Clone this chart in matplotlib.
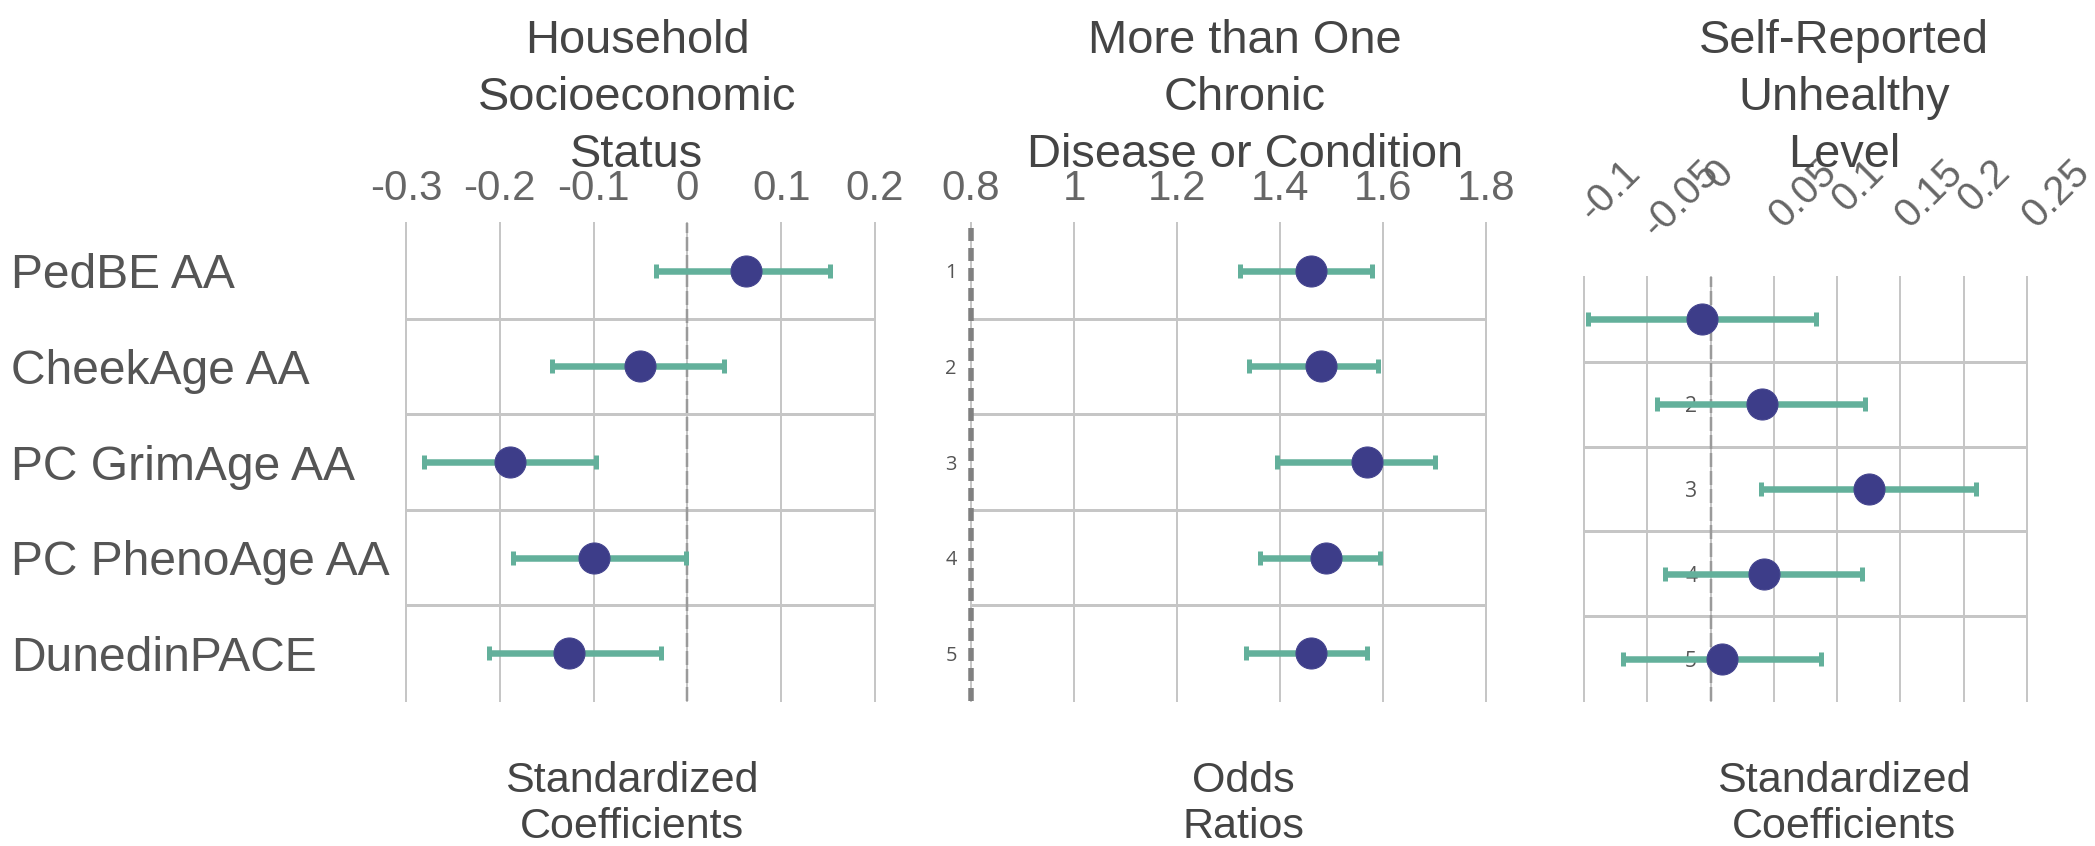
import numpy as np
import matplotlib
matplotlib.use("Agg")
import matplotlib.pyplot as plt
from matplotlib.transforms import ScaledTranslation

plt.rcParams['font.family'] = ['Liberation Sans', 'DejaVu Sans']
plt.rcParams['lines.scale_dashes'] = False

# ---------------- data ----------------
categories = ["PedBE AA", "CheekAge AA", "PC GrimAge AA", "PC PhenoAge AA", "DunedinPACE"]
row_ids = [1, 2, 3, 4, 5]
row_labels = ["1", "2", "3", "4", "5"]

ses_est = [0.062, -0.051, -0.189, -0.100, -0.126]
ses_lo = [-0.033, -0.144, -0.281, -0.186, -0.211]
ses_hi = [0.152, 0.039, -0.097, -0.002, -0.028]

chronic_or = [1.461, 1.479, 1.568, 1.489, 1.461]
chronic_lo = [1.322, 1.340, 1.394, 1.361, 1.334]
chronic_hi = [1.579, 1.590, 1.701, 1.594, 1.568]

unh_est = [-0.007, 0.041, 0.125, 0.042, 0.009]
unh_lo = [-0.097, -0.042, 0.040, -0.036, -0.069]
unh_hi = [0.083, 0.122, 0.210, 0.120, 0.087]

ses_ticks = [-0.3, -0.2, -0.1, 0, 0.1, 0.2]
ses_ticklabels = ["-0.3", "-0.2", "-0.1", "0", "0.1", "0.2"]
or_ticks = [0.8, 1, 1.2, 1.4, 1.6, 1.8]
or_ticklabels = ["0.8", "1", "1.2", "1.4", "1.6", "1.8"]
unh_ticks = [-0.1, -0.05, 0, 0.05, 0.1, 0.15, 0.2, 0.25]
unh_ticklabels = ["-0.1", "-0.05", "0", "0.05", "0.1", "0.15", "0.2", "0.25"]

titles = ["Household\nSocioeconomic\nStatus",
          "More than One\nChronic\nDisease or Condition",
          "Self-Reported\nUnhealthy\nLevel"]
xtitles = ["Standardized\nCoefficients", "Odds\nRatios", "Standardized\nCoefficients"]

# ---------------- layout ----------------
W, H, DPI = 2095, 846, 100
PT = 72.0 / DPI  # px -> pt

fig = plt.figure(figsize=(W / DPI, H / DPI), dpi=DPI)
fig.patch.set_facecolor("white")


def rect(l, t, r, b):
    return [l / W, 1 - b / H, (r - l) / W, (b - t) / H]


ax1 = fig.add_axes(rect(406, 223, 875, 701))
ax2 = fig.add_axes(rect(971, 223, 1486, 701))
ax3 = fig.add_axes(rect(1584, 277, 2027, 701))

GRID = "#c6c6c6"
MARK = "#3d3d89"
BAR = "#63b09b"


def style(ax, xlim, ticks, ticklabels):
    ax.set_xlim(*xlim)
    ax.set_ylim(5.5, 0.5)
    for s in ax.spines.values():
        s.set_visible(False)
    ax.xaxis.tick_top()
    ax.set_xticks(ticks, ticklabels)
    ax.set_yticks([1.5, 2.5, 3.5, 4.5], minor=True)
    ax.tick_params(axis="both", which="both", length=0)
    ax.grid(axis="x", which="major", color=GRID, lw=2 * PT)
    ax.grid(axis="y", which="minor", color=GRID, lw=3 * PT)
    ax.grid(axis="y", which="major", visible=False)
    for l in ax.get_xgridlines():
        l.set_clip_on(False)


def draw(ax, est, lo, hi):
    est = np.asarray(est); lo = np.asarray(lo); hi = np.asarray(hi)
    ax.errorbar(est, row_ids, xerr=[est - lo, hi - est], fmt="none",
                ecolor=BAR, elinewidth=6.5 * PT, capsize=7 * PT,
                capthick=5 * PT, zorder=3)
    ax.plot(est, row_ids, "o", ms=31 * PT, color=MARK, mec="#45458f",
            mew=0.8, zorder=4, clip_on=False)


# panel 1
style(ax1, (-0.3, 0.2), ses_ticks, ses_ticklabels)
ax1.set_yticks(row_ids, categories)
ax1.tick_params(axis="y", pad=395 * PT, labelsize=48 * PT, labelcolor="#555555")
for t in ax1.get_yticklabels():
    t.set_ha("left")
ax1.tick_params(axis="x", pad=14 * PT, labelsize=42 * PT, labelcolor="#666666")
ax1.axvline(0, color="#9a9a9a", lw=2.5 * PT, dashes=(14 * PT, 4 * PT), zorder=2)
draw(ax1, ses_est, ses_lo, ses_hi)

# panel 2
style(ax2, (0.8, 1.8), or_ticks, or_ticklabels)
ax2.set_yticks(row_ids, row_labels)
ax2.tick_params(axis="y", pad=14 * PT, labelsize=20 * PT, labelcolor="#555555")
for t in ax2.get_yticklabels():
    t.set_family(["Open Sans", "DejaVu Sans"])
ax2.tick_params(axis="x", pad=14 * PT, labelsize=42 * PT, labelcolor="#666666")
ax2.axvline(0.8, color="#808080", lw=5.5 * PT, dashes=(13 * PT, 7 * PT),
            zorder=2.2, clip_on=False)
draw(ax2, chronic_or, chronic_lo, chronic_hi)

# panel 3
style(ax3, (-0.1, 0.25), unh_ticks, unh_ticklabels)
ax3.set_yticks(row_ids, row_labels)
ax3.tick_params(axis="y", pad=-113 * PT, labelsize=21 * PT, labelcolor="#555555")
for t in ax3.get_yticklabels():
    t.set_family(["Open Sans", "DejaVu Sans"])
ax3.tick_params(axis="x", pad=124 * PT, labelsize=40 * PT, labelcolor="#666666")
shift = ScaledTranslation(-12 / DPI, 0, fig.dpi_scale_trans)
for t in ax3.get_xticklabels():
    t.set_rotation(45)
    t.set_ha("left")
    t.set_va("top")
    t.set_transform(t.get_transform() + shift)
ax3.axvline(0, color="#9a9a9a", lw=2.5 * PT, dashes=(14 * PT, 4 * PT), zorder=2)
draw(ax3, unh_est, unh_lo, unh_hi)

# titles
title_x = [637, 1245, 1844]
title_base = [53, 110, 167]
for cx, ttl in zip(title_x, titles):
    for yb, line in zip(title_base, ttl.split("\n")):
        fig.text(cx / W, 1 - yb / H, line, ha="center", va="baseline",
                 fontsize=47 * PT, color="#444444")

xt_x = [632, 1243, 1844]
xt_base = [792, 838]
for cx, ttl in zip(xt_x, xtitles):
    for yb, line in zip(xt_base, ttl.split("\n")):
        fig.text(cx / W, 1 - yb / H, line, ha="center", va="baseline",
                 fontsize=43 * PT, color="#444444")

fig.savefig("out.png", dpi=DPI, facecolor="white")
